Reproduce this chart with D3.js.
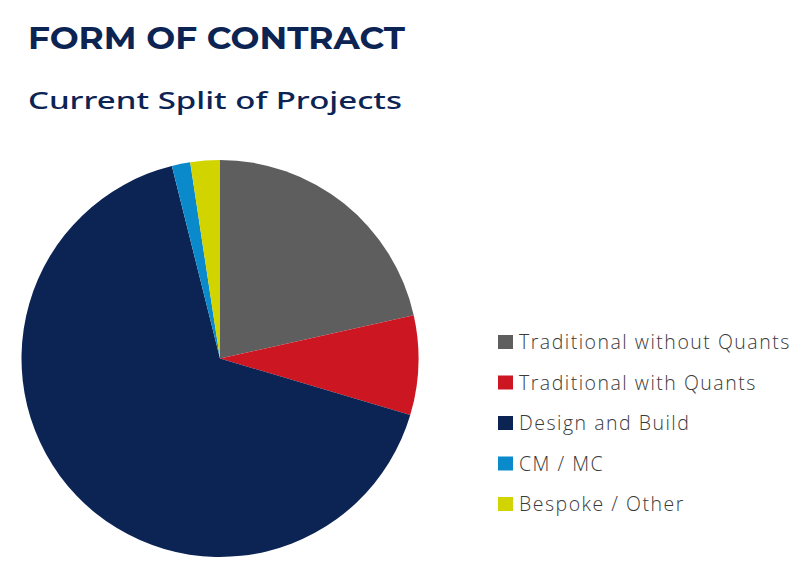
<!DOCTYPE html>
<html>
<head>
<meta charset="utf-8">
<script src="https://cdn.jsdelivr.net/npm/d3@7"></script>
<style>
  body { margin: 0; background: #fff; }
  svg { display: block; }
</style>
</head>
<body>
<div id="chart"></div>
<script>
// ----- Data -----
const categories = ["Traditional without Quants", "Traditional with Quants", "Design and Build", "CM / MC", "Bespoke / Other"];
const shares = [21.5, 8.1, 66.5, 1.5, 2.4];
const colours = ["#5f5e5e", "#cc1622", "#0c2454", "#0a8acb", "#d2d400"];

const title = "FORM OF CONTRACT";
const subtitle = "Current Split of Projects";

// ----- Config -----
const width = 805;
const height = 574;
const cx = 220, cy = 358.5;
const radius = 198.5;

const svg = d3.select("#chart")
  .append("svg")
  .attr("width", width)
  .attr("height", height);

// titles
svg.append("text")
  .attr("x", 28)
  .attr("y", 49)
  .attr("textLength", 377)
  .attr("lengthAdjust", "spacingAndGlyphs")
  .style("font-family", "Montserrat, 'Noto Sans', sans-serif")
  .style("font-weight", 700)
  .style("font-size", "31px")
  .style("fill", "#0c2454")
  .text(title);

svg.append("text")
  .attr("x", 28)
  .attr("y", 109)
  .attr("textLength", 374)
  .attr("lengthAdjust", "spacingAndGlyphs")
  .style("font-family", "'Noto Sans', sans-serif")
  .style("font-weight", 500)
  .style("font-size", "24px")
  .style("fill", "#0c2454")
  .text(subtitle);

// ----- Pie -----
const pie = d3.pie().sort(null).value(d => d.value);
const arc = d3.arc().innerRadius(0).outerRadius(radius);
const colour = d3.scaleOrdinal().domain(categories).range(colours);

const rows = categories.map((c, i) => ({ name: c, value: shares[i] }));

svg.append("g")
  .attr("transform", `translate(${cx},${cy})`)
  .selectAll("path")
  .data(pie(rows))
  .join("path")
  .attr("d", arc)
  .attr("fill", d => colour(d.data.name));

// ----- Legend -----
const legendY = d3.scalePoint().domain(categories).range([342, 504]);

const legend = svg.append("g")
  .selectAll("g")
  .data(categories)
  .join("g")
  .attr("transform", d => `translate(498,${legendY(d)})`);

legend.append("rect")
  .attr("x", 0)
  .attr("y", -7)
  .attr("width", 15)
  .attr("height", 14)
  .attr("fill", d => colour(d));

legend.append("text")
  .attr("x", 21)
  .attr("y", 0)
  .attr("dy", "0.36em")
  .style("font-family", "'Open Sans', sans-serif")
  .style("font-weight", 300)
  .style("font-size", "19.5px")
  .style("letter-spacing", "1.5px")
  .style("fill", "#3a3a3a")
  .text(d => d);
</script>
</body>
</html>
